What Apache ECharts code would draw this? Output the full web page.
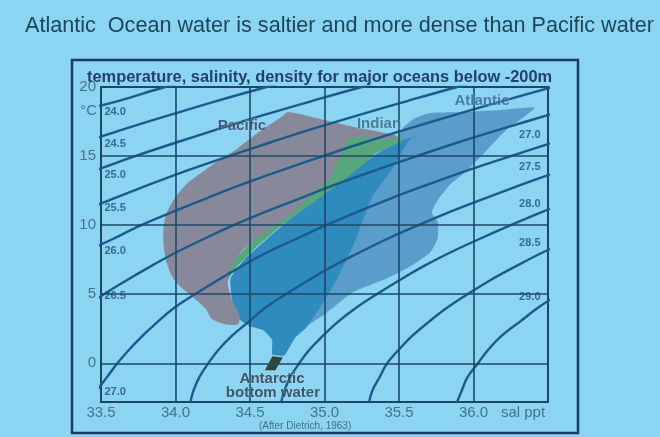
<!DOCTYPE html>
<html><head><meta charset="utf-8">
<script src="https://cdn.jsdelivr.net/npm/echarts@6/dist/echarts.min.js"></script>
<style>html,body{margin:0;padding:0;background:#8bd5f3;}#c{width:660px;height:437px;}</style>
</head><body><div id="c"></div>
<script>
// axis ticks
const salTicks = [33.5, 34.0, 34.5, 35.0, 35.5, 36.0];
const tempTicks = [0, 5, 10, 15, 20];
const salGrid = [34.0, 34.5, 35.0, 35.5, 36.0];
const tempGrid = [0, 5, 10, 15];

// density (sigma-t) contours, points as [salinity, temperature]
const sig240 = [[33.25,18],[33.62,19],[33.93,20],[34.3,21]];
const sig245 = [[33.09,15],[33.38,16],[33.67,17],[33.97,18],[34.28,19],[34.61,20],[34.95,21]];
const sig250 = [[33.2,13],[33.47,14],[33.73,15],[34.01,16],[34.30,17],[34.60,18],[34.92,19],[35.25,20],[35.60,21]];
const sig255 = [[33.14,10],[33.37,11],[33.60,12],[33.84,13],[34.09,14],[34.36,15],[34.64,16],[34.93,17],[35.24,18],[35.56,19],[35.89,20],[36.24,21]];
const sig260 = [[33.2,7],[33.38,8],[33.58,9],[33.77,10],[33.99,11],[34.22,12],[34.46,13],[34.72,14],[34.99,15],[35.27,16],[35.57,17],[35.88,18],[36.20,19],[36.53,20],[36.87,21]];
const sig265 = [[33.39,4],[33.52,5],[33.67,6],[33.83,7],[34.00,8],[34.19,9],[34.39,10],[34.61,11],[34.85,12],[35.09,13],[35.35,14],[35.62,15],[35.90,16],[36.20,17],[36.51,18],[36.83,19]];
const sig270 = [[33.42,-2.8],[33.47,-2],[33.54,-1],[33.61,0],[33.69,1],[33.78,2],[33.88,3],[33.99,4],[34.13,5],[34.28,6],[34.44,7],[34.61,8],[34.81,9],[35.01,10],[35.23,11],[35.46,12],[35.71,13],[35.97,14],[36.25,15],[36.54,16],[36.84,17]];
const sig275 = [[34.10,-2.8],[34.12,-2],[34.16,-1],[34.22,0],[34.29,1],[34.38,2],[34.49,3],[34.60,4],[34.74,5],[34.89,6],[35.05,7],[35.23,8],[35.42,9],[35.63,10],[35.85,11],[36.09,12],[36.34,13],[36.60,14]];
const sig280 = [[34.71,-2.8],[34.73,-2],[34.77,-1],[34.83,0],[34.90,1],[34.99,2],[35.09,3],[35.21,4],[35.35,5],[35.50,6],[35.66,7],[35.84,8],[36.04,9],[36.25,10],[36.47,11],[36.71,12]];
const sig285 = [[35.30,-2.8],[35.32,-2],[35.37,-1],[35.42,0],[35.50,1],[35.59,2],[35.70,3],[35.82,4],[35.96,5],[36.11,6],[36.28,7],[36.46,8],[36.66,9]];
const sig290 = [[35.89,-2.8],[35.92,-2],[35.96,-1],[36.03,0],[36.10,1],[36.19,2],[36.31,3],[36.43,4],[36.57,5],[36.73,6]];

// contour labels
const leftLabelText = ["24.0","24.5","25.0","25.5","26.0","26.5","27.0"];
const leftLabelT = [18.19,15.87,13.62,11.23,8.12,4.86,-2.10];
const rightLabelText = ["27.0","27.5","28.0","28.5","29.0"];
const rightLabelT = [16.52,14.24,11.52,8.73,4.78];

// water mass regions, [salinity, temperature]
const atlantic = [[36.41,18.48],[36.18,18.33],[35.94,18.19],[35.71,18.12],[35.61,17.75],[35.53,17.10],[35.49,16.38],[35.04,12.54],[34.57,8.19],[34.42,4.57],[34.47,2.83],[34.58,2.61],[34.65,1.88],[34.65,0.65],[34.73,0.58],[34.81,2.03],[34.89,2.75],[35.02,3.70],[35.19,5.14],[35.42,6.16],[35.59,7.10],[35.71,8.04],[35.76,9.06],[35.76,10.22],[35.72,10.94],[35.76,11.81],[35.84,12.90],[35.96,13.99],[36.09,15.43],[36.22,16.88]];
const overlap = [[35.53,16.16],[35.31,14.86],[35.14,13.41],[34.97,12.03],[34.80,10.72],[34.62,9.06],[34.47,7.61],[34.37,6.16],[34.38,4.57],[34.42,3.26],[34.50,2.68],[34.59,2.39],[34.65,1.67],[34.65,0.65],[34.73,0.58],[34.80,1.81],[34.88,2.61],[34.98,4.20],[35.08,6.01],[35.20,8.70],[35.32,12.03],[35.45,13.99],[35.57,16.16],[35.63,16.45]];
const indian = [[35.10,16.16],[35.17,16.38],[35.49,16.38],[35.53,16.16],[35.35,15.22],[35.19,13.77],[35.04,12.54],[34.88,11.30],[34.70,9.86],[34.52,8.19],[34.39,6.74],[34.33,5.65],[34.27,6.01],[34.84,12.54]];
const pacific = [[34.755,18.19],[34.97,17.68],[35.17,17.17],[35.37,16.74],[35.49,16.45],[35.44,16.23],[35.17,16.30],[35.10,14.93],[35.04,13.48],[34.92,12.32],[34.75,10.58],[34.59,9.42],[34.45,8.19],[34.38,7.10],[34.35,5.87],[34.38,4.57],[34.43,3.48],[34.42,2.83],[34.33,2.83],[34.245,3.20],[34.20,3.99],[34.11,4.86],[34.03,5.58],[33.98,6.23],[33.94,7.32],[33.92,8.55],[33.92,9.86],[33.94,10.87],[34.00,12.03],[34.08,13.04],[34.20,13.99],[34.31,14.86],[34.40,15.43],[34.55,16.67],[34.65,17.39],[34.72,17.90]];
const bottomWater = [[34.65,0.51],[34.72,0.43],[34.67,-0.51],[34.60,-0.51]];

// region names, [salinity, temperature, text]
const regionNames = [[34.446,17.21,"Pacific"],[35.366,17.36,"Indian"],[36.057,18.99,"Atlantic"]];
const regionColors = ['#333f5c', '#2b6688', '#2c6994'];
const aabwNames = [[34.648,-1.16,"Antarctic"],[34.654,-2.14,"bottom water"]];
const sourceNote = [[34.87,-4.57,"(After Dietrich, 1963)"]];

const FONT = "'Liberation Sans', Arial, sans-serif";
const LINE = '#1d5a8c';
const GRIDC = '#1e4766';
const AXC = '#44728e';

function region(pts, fill, smooth) {
  return {
    type: 'custom', silent: true, z: 1, clip: true, data: [[35, 10]],
    renderItem: (params, api) => ({
      type: 'polygon',
      shape: { points: pts.map(p => api.coord(p)), smooth: smooth || 0 },
      style: { fill: fill }
    })
  };
}
function contour(pts) {
  return { type: 'line', data: pts, smooth: 0.4, showSymbol: false, symbol: 'none', silent: true, z: 3,
    lineStyle: { color: LINE, width: 2.4 } };
}
function labels(data, opts) {
  return Object.assign({ type: 'scatter', data: data, symbolSize: 1, silent: true, z: 6, clip: false,
    itemStyle: { color: 'rgba(0,0,0,0)' } }, opts);
}

const chart = echarts.init(document.getElementById('c'));
const option = {
  backgroundColor: '#8bd5f3',
  animation: false,
  title: [
    { text: 'Atlantic  Ocean water is saltier and more dense than Pacific water', left: 20, top: 10,
      textStyle: { fontFamily: FONT, fontSize: 21.6, fontWeight: 'normal', color: '#1d4658' } },
    { text: 'temperature, salinity, density for major oceans below -200m', left: 82, top: 64,
      textStyle: { fontFamily: FONT, fontSize: 16.4, fontWeight: 'bold', color: '#253f6c' } }
  ],
  graphic: [{ type: 'rect', z: 10, silent: true, shape: { x: 72, y: 60, width: 506, height: 373 },
    style: { fill: null, stroke: '#1b3b63', lineWidth: 2.5 } }],
  grid: { left: 101, right: 112, top: 87, bottom: 35, show: true, borderColor: GRIDC, borderWidth: 2,
    backgroundColor: 'transparent' },
  xAxis: {
    type: 'value', min: 33.5, max: 36.5, interval: 0.5,
    splitLine: { show: false }, axisTick: { show: false }, axisLine: { show: false },
    axisLabel: { margin: 3, fontFamily: FONT, fontSize: 15, color: AXC, showMaxLabel: true, showMinLabel: true,
      formatter: v => Math.abs(v - 36.5) < 1e-6 ? '{u|sal ppt}' :
        (salTicks.some(t => Math.abs(t - v) < 1e-6) ? v.toFixed(1) : ''),
      rich: { u: { fontFamily: FONT, fontSize: 15, color: AXC, padding: [0, 50, 0, 0] } } }
  },
  yAxis: {
    type: 'value', min: -2.8, max: 20,
    splitLine: { show: false }, axisTick: { show: false }, axisLine: { show: false },
    axisLabel: { customValues: tempTicks, margin: 5, fontFamily: FONT, fontSize: 15, color: AXC },
    name: '°C', nameLocation: 'end', nameGap: -24,
    nameTextStyle: { fontFamily: FONT, fontSize: 15, color: AXC, align: 'right', verticalAlign: 'middle', padding: [0, 4, 0, 0] }
  },
  series: [
    region(atlantic, '#5a9dca', 0.15),
    region(overlap, '#2f8bbd', 0.15),
    region(indian, '#58a67c', 0.1),
    region(pacific, '#88889b', 0.25),
    region(bottomWater, '#2c4738', 0),
    Object.assign(contour(sig240), {
      markLine: { silent: true, symbol: ['none', 'none'], label: { show: false }, animation: false,
        lineStyle: { color: GRIDC, width: 1.6, type: 'solid' },
        data: salGrid.map(v => ({ xAxis: v })).concat(tempGrid.map(v => ({ yAxis: v }))) }
    }),
    contour(sig245), contour(sig250), contour(sig255), contour(sig260), contour(sig265),
    contour(sig270), contour(sig275), contour(sig280), contour(sig285), contour(sig290),
    labels(leftLabelT.map((t, i) => [33.5, t, leftLabelText[i]]), {
      label: { show: true, position: 'right', distance: 3, formatter: p => p.value[2],
        fontFamily: FONT, fontSize: 11, fontWeight: 'bold', color: '#1f4c7c' } }),
    labels(rightLabelT.map((t, i) => [36.5, t, rightLabelText[i]]), {
      label: { show: true, position: 'left', distance: 7, formatter: p => p.value[2],
        fontFamily: FONT, fontSize: 11, fontWeight: 'bold', color: '#1f4c7c' } }),
    labels(regionNames.map((r, i) => ({ value: r, label: { color: regionColors[i] } })), {
      label: { show: true, position: 'inside', formatter: p => p.value[2],
        fontFamily: FONT, fontSize: 15, fontWeight: 'bold',
        textBorderColor: 'rgba(190,220,238,0.55)', textBorderWidth: 1 } }),
    labels(aabwNames, {
      label: { show: true, position: 'inside', formatter: p => p.value[2],
        fontFamily: FONT, fontSize: 15, fontWeight: 'bold', color: '#233646',
        textBorderColor: 'rgba(200,225,240,0.5)', textBorderWidth: 1 } }),
    labels(sourceNote, {
      label: { show: true, position: 'inside', formatter: p => p.value[2],
        fontFamily: FONT, fontSize: 10, color: '#34506a' } })
  ]
};
chart.setOption(option);
</script>
</body></html>
